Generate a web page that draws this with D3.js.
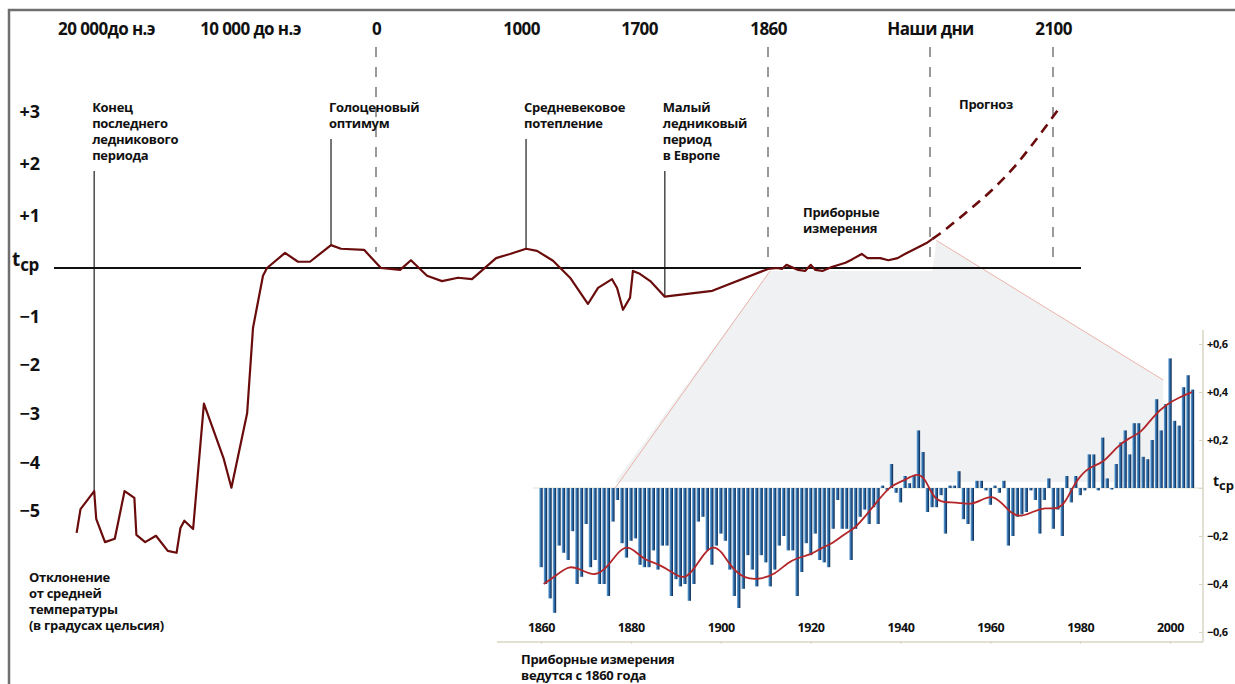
<!DOCTYPE html>
<html>
<head>
<meta charset="utf-8">
<script src="https://cdn.jsdelivr.net/npm/d3@7"></script>
<style>
  body { margin: 0; background: #fff; }
  svg { display: block; font-family: "Open Sans", sans-serif; font-weight: 700; }
</style>
</head>
<body>
<svg id="chart" width="1235" height="684"></svg>
<script>
// era axis (top)
const eraYears = [-20000, -10000, 0, 1000, 1700, 1860, 2000, 2100];
const eraLabels = ['20 000до н.э', '10 000 до н.э', '0', '1000', '1700', '1860', 'Наши дни', '2100'];
const dashedYears = [0, 1860, 2000, 2100];

// reconstructed temperature deviation
const pastYears = [-22040,-21770,-20820,-20680,-20070,-19390,-18710,-18030,-17890,-17280,-16530,-15710,-15100,-14830,-14560,-13950,-13200,-11840,-11290,-10200,-9760,-8970,-8650,-7220,-6190,-5240,-3570,-2780,-950,34,166,241,352,455,566,662,828,924,1030,1095,1190,1291,1397,1457,1540,1570,1605,1647,1664,1701,1714,1732,1742,1791,1860,1868,1872,1876,1886,1892,1897,1901,1907,1915,1927,1933,1941,1946,1957,1964,1972,1980,1989,1997,2002];
const pastTemps = [-5.45,-4.96,-4.59,-5.16,-5.64,-5.57,-4.59,-4.73,-5.49,-5.64,-5.51,-5.82,-5.86,-5.35,-5.20,-5.37,-2.79,-3.91,-4.52,-2.99,-1.23,-0.16,0,0.29,0.12,0.12,0.44,0.37,0.35,0,-0.04,0.15,-0.16,-0.27,-0.20,-0.23,0.19,0.27,0.37,0.33,0.14,-0.20,-0.74,-0.41,-0.23,-0.41,-0.86,-0.61,-0.06,-0.12,-0.27,-0.59,-0.57,-0.47,-0.02,0,-0.02,0.06,-0.04,-0.06,0.06,-0.04,-0.06,0.02,0.10,0.17,0.27,0.19,0.19,0.15,0.19,0.29,0.39,0.48,0.56];
const forecastYears = [2002, 2008, 2028, 2050, 2068, 2084, 2104];
const forecastTemps = [0.56, 0.66, 1.04, 1.49, 1.93, 2.40, 3.04];
const tempTicks = [-5, -4, -3, -2, -1, 0, 1, 2, 3];

// events
const eventYears = [-20820, -3570, 1030, 1732];
const eventTemps = [-4.59, 0.44, 0.37, -0.59];
const eventLabels = [
  ['Конец', 'последнего', 'ледникового', 'периода'],
  ['Голоценовый', 'оптимум'],
  ['Средневековое', 'потепление'],
  ['Малый', 'ледниковый', 'период', 'в Европе']
];

// instrumental record 1860-2005
const instrYears = d3.range(1860, 2006);
const instrValues = [
  -0.33,-0.40,-0.46,-0.52,-0.24,-0.27,-0.30,-0.18,-0.40,-0.37,
  -0.15,-0.33,-0.30,-0.40,-0.40,-0.45,-0.14,-0.05,-0.23,-0.29,
  -0.22,-0.21,-0.32,-0.33,-0.33,-0.26,-0.34,-0.24,-0.24,-0.45,
  -0.38,-0.41,-0.40,-0.47,-0.40,-0.14,-0.12,-0.26,-0.32,-0.24,
  -0.19,-0.22,-0.34,-0.45,-0.50,-0.42,-0.28,-0.34,-0.41,-0.28,
  -0.31,-0.41,-0.34,-0.24,-0.20,-0.26,-0.26,-0.45,-0.35,-0.23,
  -0.28,-0.19,-0.30,-0.31,-0.33,-0.17,-0.05,-0.17,-0.17,-0.30,
  -0.17,-0.12,-0.09,-0.15,-0.08,-0.15,0.01,-0.01,0.10,-0.02,
  -0.06,0.05,0.02,0.05,0.24,0.15,-0.10,-0.08,-0.08,-0.03,
  -0.19,0.01,0.01,0.07,-0.13,-0.15,-0.22,0.03,0.03,-0.01,
  -0.07,0.01,-0.02,0.03,-0.24,-0.20,-0.12,-0.11,-0.10,-0.01,
  -0.05,-0.19,-0.05,0.04,-0.17,-0.09,-0.20,0.05,-0.06,0.05,
  -0.03,-0.01,0.14,0.14,-0.01,0.21,0.04,0.00,0.10,0.19,
  0.24,0.14,0.27,0.27,0.13,0.12,0.20,0.37,0.24,0.35,
  0.54,0.28,0.26,0.42,0.47,0.41
];
const smoothYears = [1860.6,1863,1866.3,1868.9,1872,1874.8,1877,1879,1880.8,1883,1886.7,1889.7,1892,1894,1896.4,1898.2,1900.1,1902.3,1905.3,1909,1912,1915,1917.2,1919.8,1922.4,1925,1927.6,1929.8,1932.5,1934.7,1937.7,1940.8,1943.4,1945.3,1947.5,1949.8,1952.8,1955.8,1958,1960.3,1962.5,1964.8,1967,1969.3,1972.3,1974.9,1976.8,1979,1982,1985,1988,1991,1993.6,1996.3,1999.3,2002.3,2004.9];
const smoothValues = [-0.40,-0.37,-0.32,-0.34,-0.37,-0.33,-0.27,-0.24,-0.26,-0.30,-0.32,-0.36,-0.38,-0.34,-0.27,-0.24,-0.26,-0.33,-0.38,-0.38,-0.36,-0.31,-0.29,-0.28,-0.25,-0.23,-0.19,-0.17,-0.11,-0.06,0.01,0.03,0.06,0.05,-0.05,-0.06,-0.06,-0.07,-0.05,-0.03,-0.06,-0.11,-0.12,-0.10,-0.08,-0.09,-0.06,0.03,0.09,0.10,0.17,0.21,0.23,0.30,0.35,0.38,0.40];
const instrTicks = [1860, 1880, 1900, 1920, 1940, 1960, 1980, 2000];
const instrValueTicks = [-0.6, -0.4, -0.2, 0, 0.2, 0.4, 0.6];

const svg = d3.select('#chart');
const FONT = '"Open Sans", sans-serif';

// frame
svg.append('path')
  .attr('d', 'M9,700V10H1240')
  .attr('fill', 'none')
  .attr('stroke', '#6f6f6f')
  .attr('stroke-width', 2.5);

// main scales (piecewise, as in the original drawing)
const x = d3.scaleLinear()
  .domain(eraYears)
  .range([106, 250, 376, 521, 639, 768, 930, 1053]);
const y = d3.scaleLinear()
  .domain([-5, 0, 3])
  .range([511, 268, 112]);

// inset scales
const ix = d3.scaleLinear().domain([1860, 2000]).range([541, 1170]);
const iy = d3.scaleLinear().domain([-0.6, 0.6]).range([632, 344]);

const fmtComma = v => (v > 0 ? '+' : '−') + Math.abs(v).toFixed(1).replace('.', ',');

// grey zoom wedge: hangs under the baseline, rises to "today"
const wedge = [
  [x(1860) + 2, y(0) + 3],
  [x(2002), y(0) + 3],
  [x(2002) + 4, y(0.53)],
  [ix(1998.5), iy(0.45)],
  [ix(1998.5), iy(0) - 6],
  [ix(1876.5), iy(0) - 6]
];
svg.append('path')
  .attr('d', d3.line()(wedge) + 'Z')
  .attr('fill', '#eff1f3');
svg.append('line')
  .attr('x1', wedge[0][0]).attr('y1', wedge[0][1])
  .attr('x2', wedge[5][0]).attr('y2', wedge[5][1] + 6)
  .attr('stroke', '#eab3a9').attr('stroke-width', 1);
svg.append('line')
  .attr('x1', wedge[2][0]).attr('y1', wedge[2][1])
  .attr('x2', wedge[3][0]).attr('y2', wedge[3][1])
  .attr('stroke', '#eab3a9').attr('stroke-width', 1);

// top era labels
const topAxis = svg.append('g')
  .attr('transform', 'translate(0,35)')
  .call(d3.axisTop(x).tickValues(eraYears).tickFormat((d, i) => eraLabels[i]).tickSize(0).tickPadding(0));
topAxis.select('.domain').remove();
topAxis.selectAll('text')
  .attr('font-family', FONT)
  .attr('font-weight', 700)
  .attr('font-size', 17)
  .attr('letter-spacing', -0.6)
  .attr('fill', '#111');

// dashed era lines
svg.selectAll('line.era').data(dashedYears).enter()
  .append('line')
  .attr('class', 'era')
  .attr('x1', d => x(d)).attr('x2', d => x(d))
  .attr('y1', 47).attr('y2', d => d === 0 ? 252 : 262)
  .attr('stroke', '#9a9a9a')
  .attr('stroke-width', 2)
  .attr('stroke-dasharray', '10,10');

// y labels
const leftAxis = svg.append('g')
  .attr('transform', 'translate(40,0)')
  .call(d3.axisLeft(y).tickValues(tempTicks.filter(d => d !== 0))
    .tickFormat(d => (d > 0 ? '+' : '−') + Math.abs(d)).tickSize(0).tickPadding(0));
leftAxis.select('.domain').remove();
leftAxis.selectAll('text')
  .attr('font-family', FONT)
  .attr('font-weight', 700)
  .attr('font-size', 18)
  .attr('fill', '#111');

const tcp = svg.append('text').attr('x', 12).attr('y', y(0) - 2).attr('fill', '#111');
tcp.append('tspan').attr('font-size', 19).text('t');
tcp.append('tspan').attr('font-size', 17).attr('dy', 5).attr('letter-spacing', -0.5).text('ср');

// multi-line label, one text per line
function block(lines, x0, y0) {
  const g = svg.append('g');
  lines.forEach((s, i) => g.append('text')
    .attr('x', x0).attr('y', y0 + i * 16)
    .attr('font-size', 13).attr('letter-spacing', -0.3).attr('fill', '#111')
    .text(s));
}

// event annotation lines
const events = eventYears.map((yr, i) => ({ yr, t: eventTemps[i], lines: eventLabels[i] }));
svg.selectAll('line.event').data(events).enter()
  .append('line')
  .attr('x1', d => x(d.yr)).attr('x2', d => x(d.yr))
  .attr('y1', d => 112 + (d.lines.length - 1) * 16 + 11)
  .attr('y2', d => y(d.t))
  .attr('stroke', '#4a4a4a')
  .attr('stroke-width', 1.5);
events.forEach(d => block(d.lines, x(d.yr) - 2, 112));

// baseline
svg.append('line')
  .attr('x1', 54).attr('x2', 1081)
  .attr('y1', y(0)).attr('y2', y(0))
  .attr('stroke', '#111')
  .attr('stroke-width', 2);

// temperature curve
const line = d3.line().x(d => x(d[0])).y(d => y(d[1]));
svg.append('path')
  .attr('d', line(pastYears.map((yr, i) => [yr, pastTemps[i]])))
  .attr('fill', 'none')
  .attr('stroke', '#6a0c0c')
  .attr('stroke-width', 2.2)
  .attr('stroke-linejoin', 'round');
svg.append('path')
  .attr('d', line.curve(d3.curveMonotoneX)(forecastYears.map((yr, i) => [yr, forecastTemps[i]])))
  .attr('fill', 'none')
  .attr('stroke', '#6a0c0c')
  .attr('stroke-width', 2.6)
  .attr('stroke-dasharray', '10,7');

// free labels
block(['Прогноз'], 959, 109);
block(['Приборные', 'измерения'], 803, 217);
block(['Отклонение', 'от средней', 'температуры', '(в градусах цельсия)'], 29, 582);
block(['Приборные измерения', 'ведутся с 1860 года'], 521, 664);

// inset
const defs = svg.append('defs');
const grad = defs.append('linearGradient').attr('id', 'barGrad').attr('x1', 0).attr('x2', 1);
grad.append('stop').attr('offset', 0).attr('stop-color', '#74b0e0');
grad.append('stop').attr('offset', 0.45).attr('stop-color', '#2d6aa6');
grad.append('stop').attr('offset', 1).attr('stop-color', '#0b2448');

svg.append('line')
  .attr('x1', 533).attr('x2', 1203)
  .attr('y1', iy(0)).attr('y2', iy(0))
  .attr('stroke', '#e4e1d2').attr('stroke-width', 1);

svg.selectAll('rect.bar').data(instrYears.map((yr, i) => [yr, instrValues[i]])).enter()
  .append('rect')
  .attr('class', 'bar')
  .attr('x', d => ix(d[0]) - 1.7)
  .attr('width', 3.4)
  .attr('y', d => Math.min(iy(d[1]), iy(0)))
  .attr('height', d => Math.max(1.5, Math.abs(iy(d[1]) - iy(0))))
  .attr('fill', 'url(#barGrad)');

svg.append('path')
  .attr('d', d3.line().x(d => ix(d[0])).y(d => iy(d[1])).curve(d3.curveBasis)(smoothYears.map((yr, i) => [yr, smoothValues[i]])))
  .attr('fill', 'none')
  .attr('stroke', '#b3262a')
  .attr('stroke-width', 1.8);

// inset axes
svg.append('line')
  .attr('x1', 497).attr('x2', 1203).attr('y1', 642).attr('y2', 642)
  .attr('stroke', '#d9d6c4').attr('stroke-width', 1.5);
svg.append('line')
  .attr('x1', 1203).attr('x2', 1203).attr('y1', 330).attr('y2', 642)
  .attr('stroke', '#d9d6c4').attr('stroke-width', 1.5);

const bottomAxis = svg.append('g')
  .attr('transform', 'translate(0,642)')
  .call(d3.axisTop(ix).tickValues(instrTicks).tickFormat(d3.format('d')).tickSize(3).tickPadding(7));
bottomAxis.select('.domain').remove();
bottomAxis.selectAll('line').attr('stroke', '#d9d6c4').attr('transform', 'translate(0,2)');
bottomAxis.selectAll('text')
  .attr('font-family', FONT)
  .attr('font-weight', 700)
  .attr('font-size', 12.5)
  .attr('letter-spacing', -0.4)
  .attr('fill', '#111');

const rightAxis = svg.append('g')
  .attr('transform', 'translate(1203,0)')
  .call(d3.axisRight(iy).tickValues(instrValueTicks).tickFormat(d => d === 0 ? '' : fmtComma(d)).tickSize(-4).tickPadding(4));
rightAxis.select('.domain').remove();
rightAxis.selectAll('line').attr('stroke', '#d9d6c4');
rightAxis.selectAll('text')
  .attr('font-family', FONT)
  .attr('font-weight', 700)
  .attr('font-size', 11)
  .attr('letter-spacing', -0.3)
  .attr('fill', '#111');
const itcp = svg.append('text').attr('x', 1213).attr('y', iy(0) - 2).attr('fill', '#111');
itcp.append('tspan').attr('font-size', 14).text('t');
itcp.append('tspan').attr('font-size', 13).attr('dy', 4).text('ср');
</script>
</body>
</html>
